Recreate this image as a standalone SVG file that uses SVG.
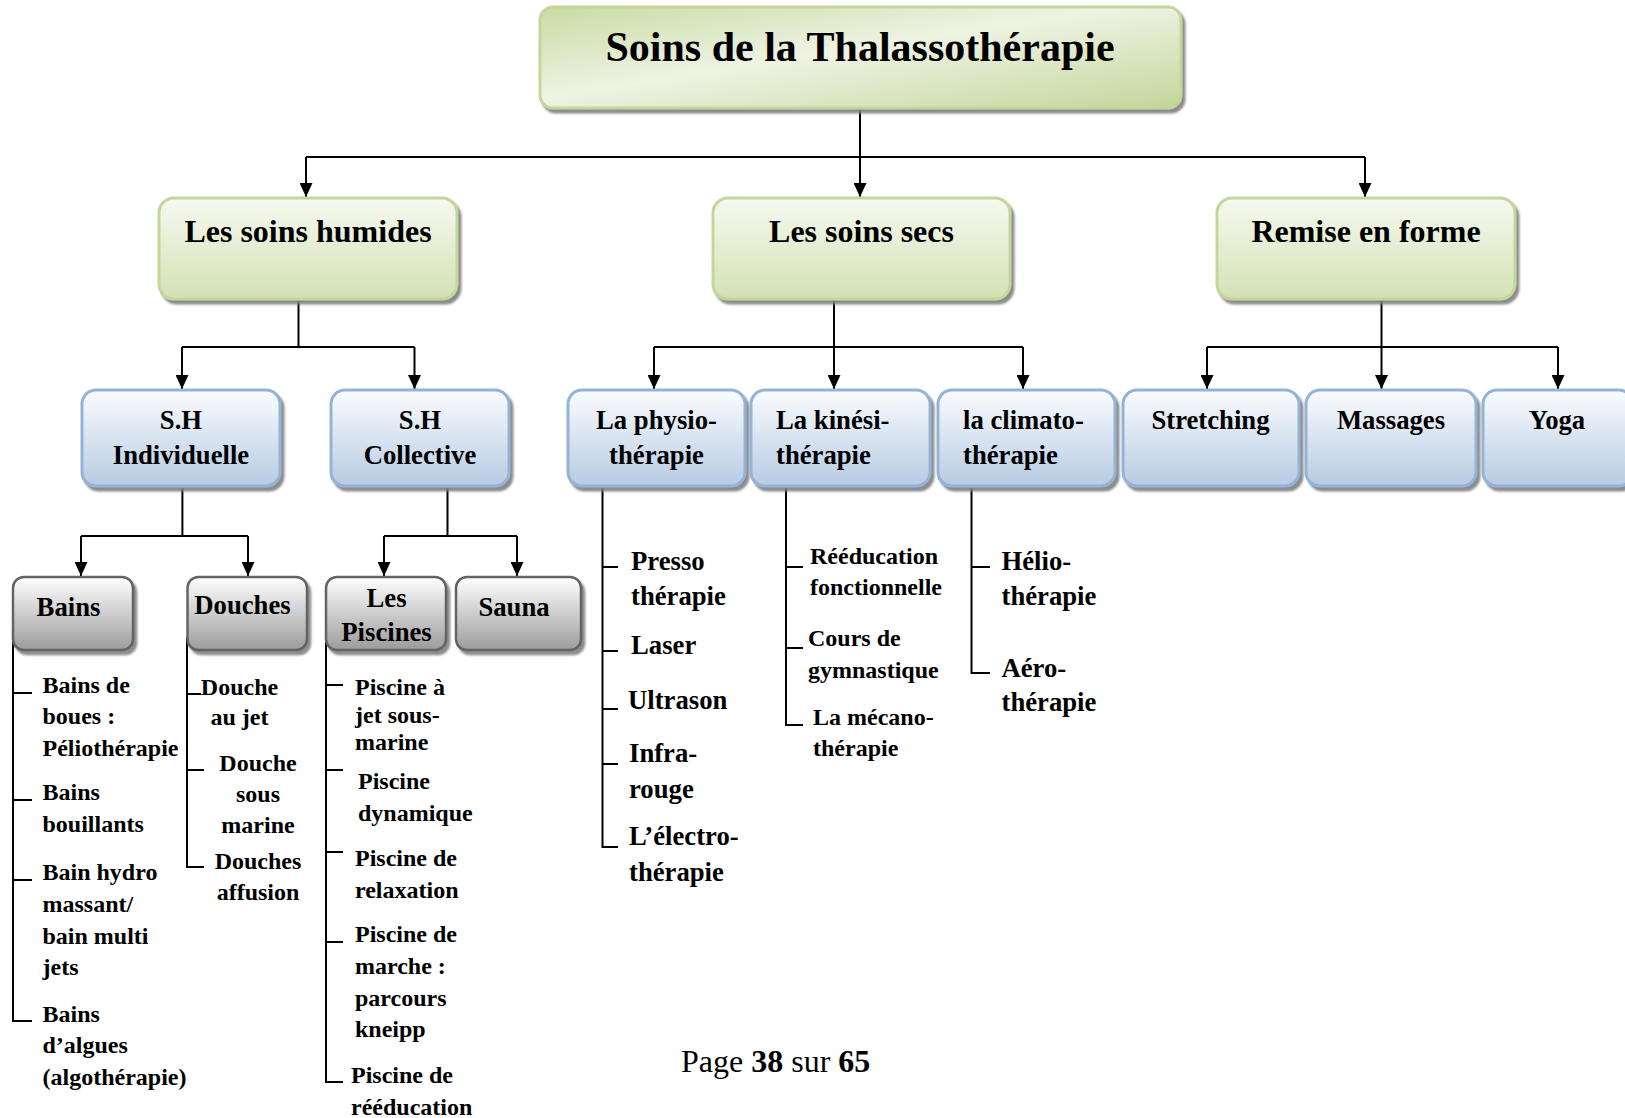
<svg xmlns="http://www.w3.org/2000/svg" width="1625" height="1118" viewBox="0 0 1625 1118">
<defs>
<linearGradient id="gTop" x1="0" y1="0" x2="1" y2="1">
<stop offset="0" stop-color="#c9dba3"/>
<stop offset="0.45" stop-color="#eef3e3"/>
<stop offset="1" stop-color="#c3d69b"/>
</linearGradient>
<linearGradient id="gGreen" x1="0" y1="0" x2="0" y2="1">
<stop offset="0" stop-color="#f6f9f0"/>
<stop offset="1" stop-color="#d3e2b4"/>
</linearGradient>
<linearGradient id="gBlue" x1="0" y1="0" x2="0" y2="1">
<stop offset="0" stop-color="#fafcfe"/>
<stop offset="1" stop-color="#b7cbe3"/>
</linearGradient>
<linearGradient id="gGray" x1="0" y1="0" x2="0" y2="1">
<stop offset="0" stop-color="#ffffff"/>
<stop offset="1" stop-color="#9c9c9c"/>
</linearGradient>
<filter id="sh" x="-5%" y="-5%" width="115%" height="125%">
<feDropShadow dx="3" dy="4" stdDeviation="1.2" flood-color="#7f7f7f" flood-opacity="0.9"/>
</filter>
<marker id="arr" markerUnits="userSpaceOnUse" markerWidth="14" markerHeight="13" viewBox="0 0 14 13" refX="14" refY="6.5" orient="auto">
<path d="M0,0 L14,6.5 L0,13 z" fill="#000"/>
</marker>
</defs>
<style>
text{font-family:"Liberation Serif","Times New Roman",serif;font-weight:bold;fill:#000}
.t0{font-size:42px;text-anchor:middle}
.t1{font-size:32px;text-anchor:middle}
.t2{font-size:26.7px}
.c{text-anchor:middle}
.t3{font-size:24px}
.grn{fill:url(#gGreen);stroke:#c3d69b;stroke-width:3}
.blu{fill:url(#gBlue);stroke:#95b3d7;stroke-width:3}
.gry{fill:url(#gGray);stroke:#636363;stroke-width:2.5}
.ln{fill:none;stroke:#000;stroke-width:2}
.ft{font-family:"Liberation Serif","Times New Roman",serif;font-size:32px;font-weight:normal}
</style>

<g id="connectors">
<path class="ln" d="M860,109 V157 M306,157 H1365"/>
<path class="ln" marker-end="url(#arr)" d="M306,157 V197"/>
<path class="ln" marker-end="url(#arr)" d="M860,157 V197"/>
<path class="ln" marker-end="url(#arr)" d="M1365,157 V197"/>

<path class="ln" d="M298.5,300 V347 M182,347 H414.5"/>
<path class="ln" marker-end="url(#arr)" d="M182,347 V389"/>
<path class="ln" marker-end="url(#arr)" d="M414.5,347 V389"/>

<path class="ln" d="M834,300 V347 M654,347 H1023"/>
<path class="ln" marker-end="url(#arr)" d="M654,347 V389"/>
<path class="ln" marker-end="url(#arr)" d="M834,347 V389"/>
<path class="ln" marker-end="url(#arr)" d="M1023,347 V389"/>

<path class="ln" d="M1381.5,300 V347 M1207,347 H1558"/>
<path class="ln" marker-end="url(#arr)" d="M1207,347 V389"/>
<path class="ln" marker-end="url(#arr)" d="M1381.5,347 V389"/>
<path class="ln" marker-end="url(#arr)" d="M1558,347 V389"/>

<path class="ln" d="M182.4,488 V536 M81,536 H248"/>
<path class="ln" marker-end="url(#arr)" d="M81,536 V576"/>
<path class="ln" marker-end="url(#arr)" d="M248,536 V576"/>

<path class="ln" d="M447.5,488 V536 M384,536 H517"/>
<path class="ln" marker-end="url(#arr)" d="M384,536 V576"/>
<path class="ln" marker-end="url(#arr)" d="M517,536 V576"/>

<path class="ln" d="M13,623 V1021 H32 M13,693 H32 M13,800 H32 M13,880 H32"/>
<path class="ln" d="M187,637 V867 H204 M187,694 H201 M187,770 H204"/>
<path class="ln" d="M326,633 V1082 H343 M326,685 H343 M326,770 H343 M326,852 H343 M326,942 H343"/>
<path class="ln" d="M602.5,488 V847 H618 M602.5,567 H618 M602.5,651 H618 M602.5,709 H618 M602.5,764 H618"/>
<path class="ln" d="M786,488 V725 H803 M786,567 H803 M786,648 H803"/>
<path class="ln" d="M971.5,488 V673 H990 M971.5,567 H990"/>
</g>

<g id="n-root">
<rect x="540" y="7" width="641" height="101" rx="13" fill="url(#gTop)" stroke="#c3d69b" stroke-width="3" filter="url(#sh)"/>
<text class="t0" x="860" y="61">Soins de la Thalassothérapie</text>
</g>

<g id="n-humides">
<rect class="grn" x="159" y="198" width="298" height="101" rx="15" filter="url(#sh)"/>
<text class="t1" x="308" y="242">Les soins humides</text>
</g>
<g id="n-secs">
<rect class="grn" x="713" y="198" width="297" height="101" rx="15" filter="url(#sh)"/>
<text class="t1" x="861.5" y="242">Les soins secs</text>
</g>
<g id="n-remise">
<rect class="grn" x="1217" y="198" width="298" height="101" rx="15" filter="url(#sh)"/>
<text class="t1" x="1366" y="242">Remise en forme</text>
</g>

<g id="n-shi">
<rect class="blu" x="82" y="390" width="198" height="96" rx="14" filter="url(#sh)"/>
<text class="t2 c" x="181" y="429">S.H</text>
<text class="t2 c" x="181" y="464">Individuelle</text>
</g>
<g id="n-shc">
<rect class="blu" x="331" y="390" width="178" height="96" rx="14" filter="url(#sh)"/>
<text class="t2 c" x="420" y="429">S.H</text>
<text class="t2 c" x="420" y="464">Collective</text>
</g>
<g id="n-physio">
<rect class="blu" x="568" y="390" width="177" height="96" rx="14" filter="url(#sh)"/>
<text class="t2 c" x="656.5" y="429">La physio-</text>
<text class="t2 c" x="656.5" y="464">thérapie</text>
</g>
<g id="n-kinesi">
<rect class="blu" x="751" y="390" width="179" height="96" rx="14" filter="url(#sh)"/>
<text class="t2" x="776" y="429">La kinési-</text>
<text class="t2" x="776" y="464">thérapie</text>
</g>
<g id="n-climato">
<rect class="blu" x="938" y="390" width="177" height="96" rx="14" filter="url(#sh)"/>
<text class="t2" x="963" y="429">la climato-</text>
<text class="t2" x="963" y="464">thérapie</text>
</g>
<g id="n-stretching">
<rect class="blu" x="1123" y="390" width="176" height="96" rx="14" filter="url(#sh)"/>
<text class="t2 c" x="1210.5" y="429">Stretching</text>
</g>
<g id="n-massages">
<rect class="blu" x="1306" y="390" width="170" height="96" rx="14" filter="url(#sh)"/>
<text class="t2 c" x="1391" y="429">Massages</text>
</g>
<g id="n-yoga">
<rect class="blu" x="1483" y="390" width="150" height="96" rx="14" filter="url(#sh)"/>
<text class="t2 c" x="1557" y="429">Yoga</text>
</g>

<g id="n-bains">
<rect class="gry" x="13" y="577" width="120" height="73" rx="11" filter="url(#sh)"/>
<text class="t2 c" x="68.5" y="616">Bains</text>
</g>
<g id="n-douches">
<rect class="gry" x="187.5" y="577" width="119.5" height="73" rx="11" filter="url(#sh)"/>
<text class="t2 c" x="242.5" y="614">Douches</text>
</g>
<g id="n-piscines">
<rect class="gry" x="326" y="577" width="120" height="73" rx="11" filter="url(#sh)"/>
<text class="t2 c" x="386.5" y="607">Les</text>
<text class="t2 c" x="386.5" y="641">Piscines</text>
</g>
<g id="n-sauna">
<rect class="gry" x="456" y="577" width="125" height="73" rx="11" filter="url(#sh)"/>
<text class="t2 c" x="514" y="616">Sauna</text>
</g>

<g id="list-bains" class="t3">
<text class="t3" x="42.5" y="693">Bains de</text>
<text class="t3" x="42.5" y="724">boues :</text>
<text class="t3" x="42.5" y="756">Péliothérapie</text>
<text class="t3" x="42.5" y="800">Bains</text>
<text class="t3" x="42.5" y="832">bouillants</text>
<text class="t3" x="42.5" y="880">Bain hydro</text>
<text class="t3" x="42.5" y="912">massant/</text>
<text class="t3" x="42.5" y="944">bain multi</text>
<text class="t3" x="42.5" y="975">jets</text>
<text class="t3" x="42.5" y="1022">Bains</text>
<text class="t3" x="42.5" y="1053">d’algues</text>
<text class="t3" x="42.5" y="1085">(algothérapie)</text>
</g>

<g id="list-douches">
<text class="t3 c" x="239.5" y="695">Douche</text>
<text class="t3 c" x="239.5" y="725">au jet</text>
<text class="t3 c" x="258" y="771">Douche</text>
<text class="t3 c" x="258" y="802">sous</text>
<text class="t3 c" x="258" y="833">marine</text>
<text class="t3 c" x="258" y="869">Douches</text>
<text class="t3 c" x="258" y="900">affusion</text>
</g>

<g id="list-piscines">
<text class="t3" x="355" y="695">Piscine à</text>
<text class="t3" x="355" y="723">jet sous-</text>
<text class="t3" x="355" y="750">marine</text>
<text class="t3" x="358" y="789">Piscine</text>
<text class="t3" x="358" y="821">dynamique</text>
<text class="t3" x="355" y="866">Piscine de</text>
<text class="t3" x="355" y="898">relaxation</text>
<text class="t3" x="355" y="942">Piscine de</text>
<text class="t3" x="355" y="974">marche :</text>
<text class="t3" x="355" y="1006">parcours</text>
<text class="t3" x="355" y="1037">kneipp</text>
<text class="t3" x="351" y="1083">Piscine de</text>
<text class="t3" x="351" y="1115">rééducation</text>
</g>

<g id="list-physio">
<text class="t2" x="631" y="570">Presso</text>
<text class="t2" x="631" y="605">thérapie</text>
<text class="t2" x="631" y="654">Laser</text>
<text class="t2" x="628" y="709">Ultrason</text>
<text class="t2" x="629" y="762">Infra-</text>
<text class="t2" x="629" y="798">rouge</text>
<text class="t2" x="629" y="845">L’électro-</text>
<text class="t2" x="629" y="881">thérapie</text>
</g>

<g id="list-kinesi">
<text class="t3" x="810" y="564">Rééducation</text>
<text class="t3" x="810" y="595">fonctionnelle</text>
<text class="t3" x="808" y="646">Cours de</text>
<text class="t3" x="808" y="678">gymnastique</text>
<text class="t3" x="813" y="725">La mécano-</text>
<text class="t3" x="813" y="756">thérapie</text>
</g>

<g id="list-climato">
<text class="t2" x="1001.5" y="570">Hélio-</text>
<text class="t2" x="1001.5" y="605">thérapie</text>
<text class="t2" x="1001.5" y="677">Aéro-</text>
<text class="t2" x="1001.5" y="711">thérapie</text>
</g>

<g id="footer">
<text class="ft" x="681" y="1072">Page <tspan font-weight="bold">38</tspan> sur <tspan font-weight="bold">65</tspan></text>
</g>
</svg>
